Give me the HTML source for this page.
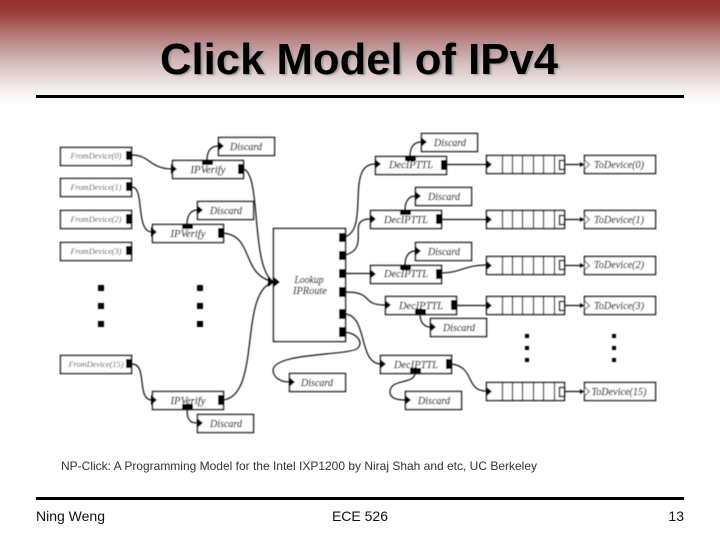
<!DOCTYPE html>
<html><head><meta charset="utf-8"><style>
html,body{margin:0;padding:0;background:#fff}
svg{display:block}
.d text{font-family:"Liberation Serif",serif;font-style:italic;text-anchor:middle;fill:#111;stroke:#111;stroke-width:.15}
.s{font-family:"Liberation Sans",sans-serif;fill:#111}
</style></head><body>
<svg width="720" height="540" viewBox="0 0 720 540" xmlns="http://www.w3.org/2000/svg">
<defs>
<linearGradient id="g" x1="0" y1="0" x2="0" y2="1">
<stop offset="0" stop-color="#962f2f"/><stop offset=".1" stop-color="#993838"/><stop offset=".35" stop-color="#b57f7f"/><stop offset=".6" stop-color="#d5bcbc"/><stop offset=".85" stop-color="#f4efef"/><stop offset="1" stop-color="#fff"/>
</linearGradient>
<filter id="b" x="-5%" y="-5%" width="110%" height="110%"><feGaussianBlur stdDeviation="0.4"/></filter>
<filter id="sh" x="-5%" y="-20%" width="110%" height="140%"><feGaussianBlur stdDeviation="0.7"/></filter>
</defs>
<rect width="720" height="105" fill="url(#g)"/>
<text class="s" x="361" y="75" font-size="44" font-weight="700" text-anchor="middle" textLength="398" lengthAdjust="spacingAndGlyphs" style="fill:#999" filter="url(#sh)">Click Model of IPv4</text>
<text class="s" x="359" y="74" font-size="44" font-weight="700" text-anchor="middle" textLength="398" lengthAdjust="spacingAndGlyphs" style="fill:#000">Click Model of IPv4</text>
<rect x="36" y="95" width="648" height="3" fill="#000"/>

<g class="d" filter="url(#b)">
<g fill="#fff" stroke="#111" stroke-width="1.400">
<rect x="60.500" y="147.500" width="71" height="18"/><rect x="60.500" y="178.500" width="71" height="18"/><rect x="60.500" y="210.500" width="71" height="18"/><rect x="60.500" y="242.500" width="71" height="18"/><rect x="60.500" y="355.500" width="71" height="18"/>
<rect x="172.500" y="160.500" width="71" height="18"/><rect x="152.500" y="224.500" width="71" height="18"/><rect x="152.500" y="391.500" width="71" height="18"/>
<rect x="218.500" y="137.500" width="56" height="18"/><rect x="197.500" y="201.500" width="56" height="18"/><rect x="197.500" y="414.500" width="56" height="18"/>
<rect x="273.500" y="228.500" width="72" height="113"/>
<rect x="375.500" y="156.500" width="71" height="18"/><rect x="370.500" y="210.500" width="71" height="18"/><rect x="370.500" y="265.500" width="71" height="18"/><rect x="385.500" y="296.500" width="71" height="18"/><rect x="380.500" y="355.500" width="71" height="18"/>
<rect x="421.500" y="133.500" width="56" height="18"/><rect x="415.500" y="187.500" width="56" height="18"/><rect x="415.500" y="242.500" width="56" height="18"/><rect x="430.500" y="318.500" width="56" height="18"/><rect x="405.500" y="391.500" width="56" height="18"/><rect x="289.500" y="373.500" width="56" height="18"/>
<rect x="486.500" y="155.500" width="78" height="18"/><rect x="486.500" y="210.500" width="78" height="18"/><rect x="486.500" y="256.500" width="78" height="18"/><rect x="486.500" y="296.500" width="78" height="18"/><rect x="486.500" y="382.500" width="78" height="18"/>
<rect x="584.500" y="155.500" width="71" height="18"/><rect x="584.500" y="210.500" width="71" height="18"/><rect x="584.500" y="256.500" width="71" height="18"/><rect x="584.500" y="296.500" width="71" height="18"/><rect x="584.500" y="382.500" width="71" height="18"/>
<rect x="559.500" y="160.500" width="5" height="9"/><rect x="559.500" y="215.500" width="5" height="9"/><rect x="559.500" y="260.500" width="5" height="9"/><rect x="559.500" y="301.500" width="5" height="9"/><rect x="559.500" y="387.500" width="5" height="9"/>
</g>
<path stroke="#111" stroke-width="1.200" fill="none" d="M502.500 155v18M512.500 155v18M522.500 155v18M533.500 155v18M543.500 155v18M554.500 155v18M502.500 210v18M512.500 210v18M522.500 210v18M533.500 210v18M543.500 210v18M554.500 210v18M502.500 256v18M512.500 256v18M522.500 256v18M533.500 256v18M543.500 256v18M554.500 256v18M502.500 296v18M512.500 296v18M522.500 296v18M533.500 296v18M543.500 296v18M554.500 296v18M502.500 382v18M512.500 382v18M522.500 382v18M533.500 382v18M543.500 382v18M554.500 382v18"/>

<g fill="#000">
<rect x="126" y="151" width="6" height="9"/><rect x="126" y="182" width="6" height="9"/><rect x="126" y="214" width="6" height="10"/><rect x="126" y="246" width="6" height="9"/><rect x="126" y="359" width="6" height="9"/>
<rect x="238" y="164" width="6" height="10"/><rect x="218" y="228" width="6" height="10"/><rect x="218" y="395" width="6" height="10"/>
<rect x="202" y="160" width="11" height="5"/><rect x="182" y="224" width="11" height="5"/><rect x="182" y="404" width="11" height="5"/>
<rect x="339" y="233" width="6" height="9"/><rect x="339" y="251" width="6" height="9"/><rect x="339" y="269" width="6" height="9"/><rect x="339" y="287" width="6" height="10"/><rect x="339" y="309" width="6" height="10"/><rect x="339" y="327" width="6" height="10"/>
<rect x="441" y="160" width="6" height="10"/><rect x="436" y="214" width="6" height="10"/><rect x="436" y="269" width="6" height="10"/><rect x="451" y="300" width="6" height="10"/><rect x="446" y="359" width="6" height="10"/>
<rect x="405" y="156" width="11" height="5"/><rect x="400" y="210" width="11" height="5"/><rect x="400" y="265" width="11" height="5"/><rect x="415" y="309" width="11" height="5"/><rect x="410" y="368" width="11" height="5"/>
<rect x="98" y="285" width="6" height="6"/><rect x="98" y="303" width="6" height="6"/><rect x="98" y="321" width="6" height="6"/>
<rect x="197" y="285" width="6" height="6"/><rect x="197" y="303" width="6" height="6"/><rect x="197" y="321" width="6" height="6"/>
<rect x="525" y="334" width="4" height="4"/><rect x="525" y="346" width="4" height="4"/><rect x="525" y="358" width="4" height="4"/>
<rect x="612" y="334" width="4" height="4"/><rect x="612" y="346" width="4" height="4"/><rect x="612" y="358" width="4" height="4"/>
</g>

<g fill="none" stroke="#111" stroke-width="1.200">
<path d="M132 155C150 155 150 169 172 169"/>
<path d="M132 187C145 187 135 232 152 232"/>
<path d="M132 364C148 364 136 400 152 400"/>
<path d="M207 160C207 150 212 146 218 146"/>
<path d="M187 224C187 214 192 210 197 210"/>
<path d="M187 409C187 420 190 423 197 423"/>
<path d="M243 169C262 172 250 270 274 282"/>
<path d="M223 233C255 236 240 275 274 282"/>
<path d="M223 400C262 396 238 290 274 282"/>
<path d="M345 237C370 228 345 164 375 164"/>
<path d="M345 255C372 248 345 219 370 219"/>
<path d="M345 273.500H370"/>
<path d="M345 292C375 292 360 305 385 305"/>
<path d="M345 314C368 316 358 362 380 364"/>
<path d="M345 332C358 334 363 342 358 348C350 356 275 352 273 370C273 377 280 382 289 382"/>
<path d="M410 156C410 146 415 142 421 142"/>
<path d="M405 210C405 200 410 196 415 196"/>
<path d="M405 265C405 255 410 251 415 251"/>
<path d="M420 314C420 322 424 327 430 327"/>
<path d="M415 373C415 385 390 378 390 392C390 398 397 400 405 400"/>
<path d="M446 164.500H486M441 219.500H486M441 273C460 273 465 265 486 265M456 305.500H486"/>
<path d="M451 364C475 366 465 391 486 391"/>
<path d="M564 164.500H584M564 219.500H584M564 265.500H584M564 305.500H584M564 391.500H584"/>
</g>

<g fill="#000">
<path d="M177 169l-6-5v10zM157 232l-6-5v10zM157 400l-6-5v10zM224 146l-6-5v10zM203 210l-6-5v10zM203 423l-6-5v10z"/>
<path d="M280 282l-6-5v10zM274 282l-6-5v10z"/>
<path d="M381 164l-6-5v10zM376 219l-6-5v10zM376 274l-6-5v10zM391 305l-6-5v10zM386 364l-6-5v10zM427 142l-6-5v10zM421 196l-6-5v10zM421 251l-6-5v10zM436 327l-6-5v10zM411 400l-6-5v10zM295 382l-6-5v10z"/>
<path d="M492 164.500l-6-5v10zM492 219.500l-6-5v10zM492 265.500l-6-5v10zM492 305.500l-6-5v10zM492 391.500l-6-5v10z"/>
<path d="M584 164.500l-4-2.500v5zM584 219.500l-4-2.500v5zM584 265.500l-4-2.500v5zM584 305.500l-4-2.500v5zM584 391.500l-4-2.500v5z"/>
</g>
<path fill="#fff" stroke="#444" stroke-width=".9" d="M584.500 160l5 4.500-5 4.500zM584.500 215l5 4.500-5 4.500zM584.500 261l5 4.500-5 4.500zM584.500 301l5 4.500-5 4.500zM584.500 387l5 4.500-5 4.500z"/>

<g font-size="8.500">
<text x="96" y="158.500" textLength="51" lengthAdjust="spacingAndGlyphs" style="fill:#444;stroke:none">FromDevice(0)</text>
<text x="96" y="190" textLength="51" lengthAdjust="spacingAndGlyphs" style="fill:#444;stroke:none">FromDevice(1)</text>
<text x="96" y="222" textLength="51" lengthAdjust="spacingAndGlyphs" style="fill:#444;stroke:none">FromDevice(2)</text>
<text x="96" y="254" textLength="51" lengthAdjust="spacingAndGlyphs" style="fill:#444;stroke:none">FromDevice(3)</text>
<text x="96" y="367" textLength="55" lengthAdjust="spacingAndGlyphs" style="fill:#444;stroke:none">FromDevice(15)</text>
</g>
<g font-size="10">
<text x="208" y="173" textLength="35" lengthAdjust="spacingAndGlyphs">IPVerify</text>
<text x="188" y="237" textLength="35" lengthAdjust="spacingAndGlyphs">IPVerify</text>
<text x="188" y="404" textLength="35" lengthAdjust="spacingAndGlyphs">IPVerify</text>
<text x="246" y="150" textLength="32" lengthAdjust="spacingAndGlyphs">Discard</text>
<text x="226" y="214" textLength="32" lengthAdjust="spacingAndGlyphs">Discard</text>
<text x="226" y="427" textLength="32" lengthAdjust="spacingAndGlyphs">Discard</text>
<text x="450" y="146" textLength="32" lengthAdjust="spacingAndGlyphs">Discard</text>
<text x="444" y="200" textLength="32" lengthAdjust="spacingAndGlyphs">Discard</text>
<text x="444" y="255" textLength="32" lengthAdjust="spacingAndGlyphs">Discard</text>
<text x="459" y="331" textLength="32" lengthAdjust="spacingAndGlyphs">Discard</text>
<text x="434" y="404" textLength="32" lengthAdjust="spacingAndGlyphs">Discard</text>
<text x="317" y="386" textLength="32" lengthAdjust="spacingAndGlyphs">Discard</text>
<text x="411" y="168" textLength="44" lengthAdjust="spacingAndGlyphs">DecIPTTL</text>
<text x="406" y="223" textLength="44" lengthAdjust="spacingAndGlyphs">DecIPTTL</text>
<text x="406" y="277" textLength="44" lengthAdjust="spacingAndGlyphs">DecIPTTL</text>
<text x="421" y="309" textLength="44" lengthAdjust="spacingAndGlyphs">DecIPTTL</text>
<text x="416" y="368" textLength="44" lengthAdjust="spacingAndGlyphs">DecIPTTL</text>
<text x="309" y="283" textLength="29" lengthAdjust="spacingAndGlyphs">Lookup</text>
<text x="310" y="294" textLength="34" lengthAdjust="spacingAndGlyphs">IPRoute</text>
<text x="619" y="168" textLength="50" lengthAdjust="spacingAndGlyphs">ToDevice(0)</text>
<text x="619" y="223" textLength="50" lengthAdjust="spacingAndGlyphs">ToDevice(1)</text>
<text x="619" y="268" textLength="50" lengthAdjust="spacingAndGlyphs">ToDevice(2)</text>
<text x="619" y="309" textLength="50" lengthAdjust="spacingAndGlyphs">ToDevice(3)</text>
<text x="619" y="395" textLength="55" lengthAdjust="spacingAndGlyphs">ToDevice(15)</text>
</g>
</g>

<text class="s" x="61" y="470" font-size="12" textLength="476" lengthAdjust="spacingAndGlyphs" style="fill:#333">NP-Click: A Programming Model for the Intel IXP1200 by Niraj Shah and etc, UC Berkeley</text>
<rect x="36" y="497" width="648" height="3" fill="#000"/>
<text class="s" x="36" y="521" font-size="14">Ning Weng</text>
<text class="s" x="360" y="521" font-size="14" text-anchor="middle">ECE 526</text>
<text class="s" x="684" y="521" font-size="14" text-anchor="end">13</text>
</svg>
</body></html>
